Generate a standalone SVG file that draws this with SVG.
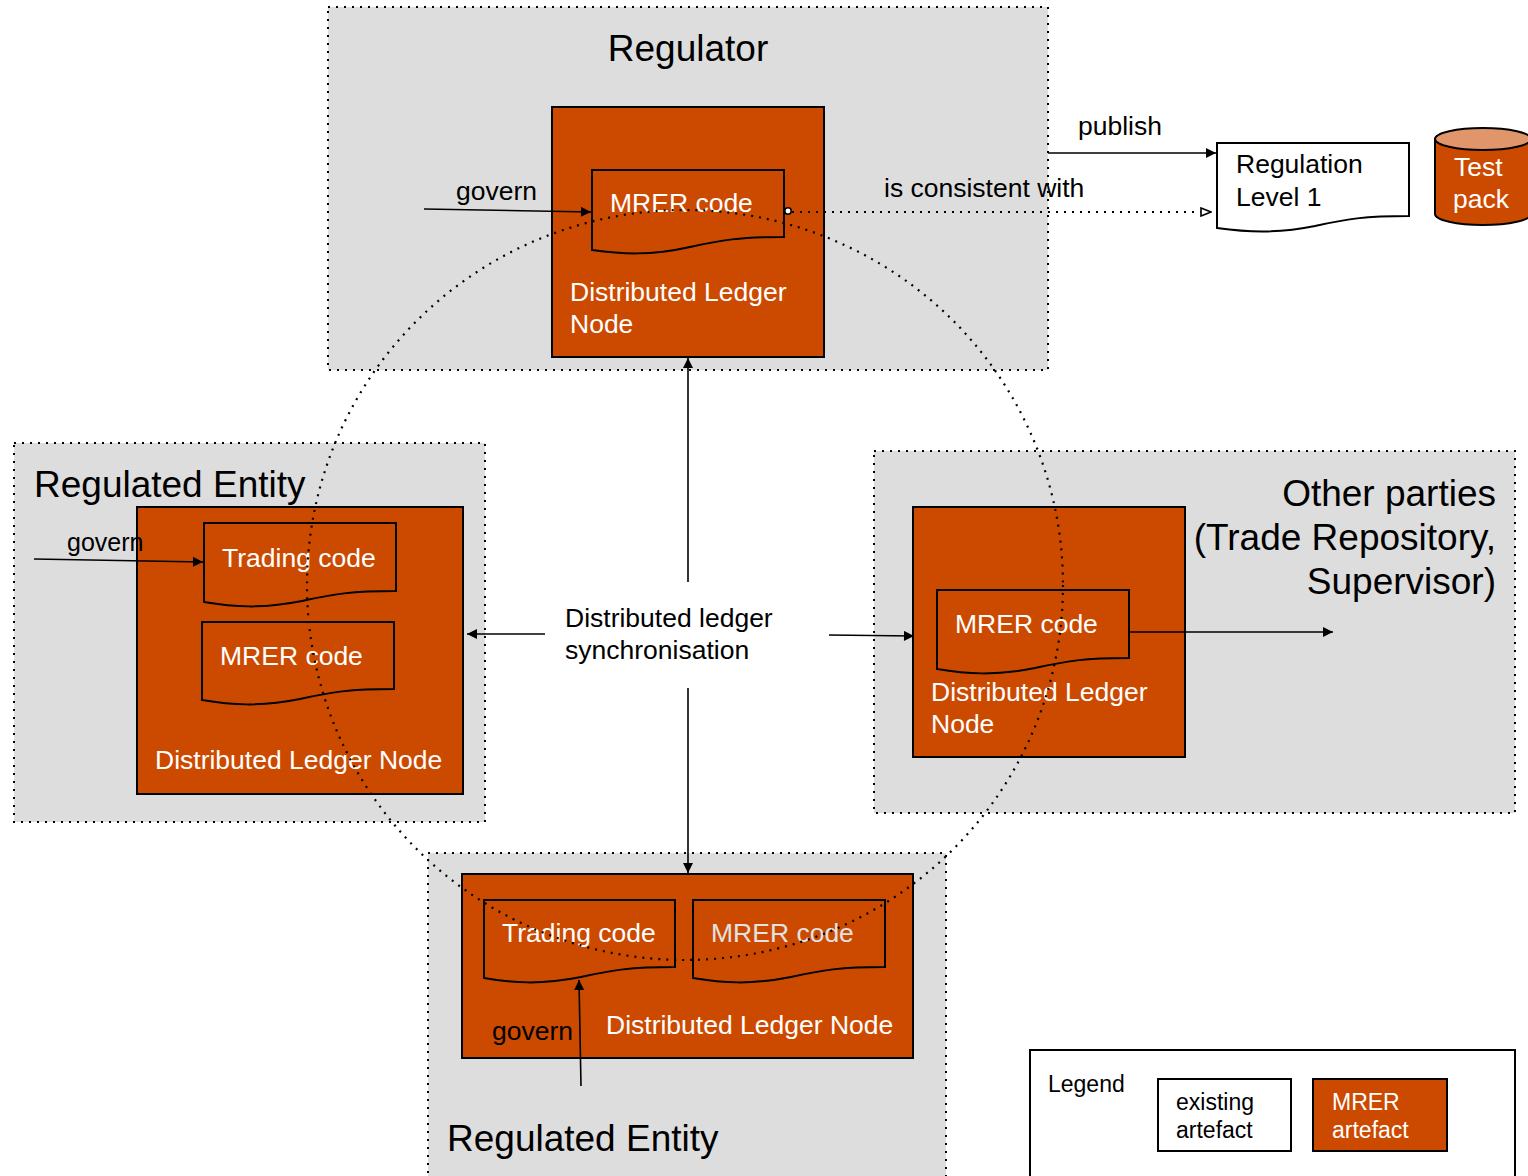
<svg xmlns="http://www.w3.org/2000/svg" width="1528" height="1176" viewBox="0 0 1528 1176">
<style>
.cont{fill:#dddddd;stroke:#000;stroke-width:2;stroke-dasharray:2 6}
.dln{fill:#cc4a00;stroke:#000;stroke-width:2}
.doc{fill:#cc4a00;stroke:#000;stroke-width:2}
.t{font-family:"Liberation Sans",Arial,sans-serif}
.big{font-size:37px;fill:#000}
.w{font-size:26.5px;fill:#fff}
.b{font-size:26.5px;fill:#000}
.s{font-size:23px}
.ln{stroke:#000;stroke-width:1.6;fill:none}
.dot{stroke:#000;stroke-width:2.2;fill:none;stroke-dasharray:2 6}
</style>
<defs>
<marker id="ah" viewBox="0 0 10 10" refX="10" refY="5" markerWidth="12" markerHeight="10" markerUnits="userSpaceOnUse" orient="auto"><path d="M0,0 L10,5 L0,10 Z" fill="#000"/></marker>
<marker id="oh" viewBox="0 0 12 10" refX="11" refY="5" markerWidth="12" markerHeight="10" markerUnits="userSpaceOnUse" orient="auto"><path d="M1,1 L11,5 L1,9 Z" fill="#fff" stroke="#000" stroke-width="1.6"/></marker>
</defs>

<g id="regulator">
<rect class="cont" x="328" y="7" width="720" height="363"/>
<text class="t big" x="688" y="61" text-anchor="middle">Regulator</text>
<g id="reg-dln">
<rect class="dln" x="552" y="107" width="272" height="250"/>
<path class="doc" d="M592,170 H784 V237 C740,237 721,240 690,247 C650,256 621,254 592,250 Z"/>
<text class="t w" x="610" y="212">MRER code</text>
<text class="t w" x="570" y="301">Distributed Ledger</text>
<text class="t w" x="570" y="333">Node</text>
</g>
</g>

<g id="regulation-level-1">
<path d="M1217,143 H1409 V216 C1365,216 1346,219 1315,226 C1275,234 1246,232 1217,228 Z" fill="#fff" stroke="#000" stroke-width="2"/>
<text class="t b" x="1236" y="173">Regulation</text>
<text class="t b" x="1236" y="206">Level 1</text>
</g>

<g id="test-pack">
<path d="M1435,139 V214 A48,11 0 0 0 1531,214 V139 Z" fill="#cc4a00" stroke="#000" stroke-width="2"/>
<ellipse cx="1483" cy="139" rx="48" ry="11" fill="#e0956b" stroke="#000" stroke-width="2"/>
<text class="t w" x="1454" y="176">Test</text>
<text class="t w" x="1453" y="208">pack</text>
</g>

<g id="regulated-entity-left">
<rect class="cont" x="14" y="443" width="471" height="379"/>
<text class="t big" x="34" y="497">Regulated Entity</text>
<g id="left-dln">
<rect class="dln" x="137" y="507" width="326" height="287"/>
<path class="doc" d="M204,523 H396 V591 C352,591 333,594 302,601 C262,609 233,607 204,602 Z"/>
<text class="t w" x="222" y="567">Trading code</text>
<path class="doc" d="M202,622 H394 V689 C350,689 331,692 300,699 C260,707 231,705 202,700 Z"/>
<text class="t w" x="220" y="665">MRER code</text>
<text class="t w" x="155" y="769">Distributed Ledger Node</text>
</g>
</g>

<g id="other-parties">
<rect class="cont" x="874" y="451" width="641" height="362"/>
<text class="t big" x="1496" y="506" text-anchor="end">Other parties</text>
<text class="t big" x="1496" y="550" text-anchor="end">(Trade Repository,</text>
<text class="t big" x="1496" y="594" text-anchor="end">Supervisor)</text>
<g id="other-dln">
<rect class="dln" x="913" y="507" width="272" height="250"/>
<path class="doc" d="M937,590 H1129 V658 C1085,658 1066,661 1035,668 C995,676 966,674 937,669 Z"/>
<text class="t w" x="955" y="633">MRER code</text>
<text class="t w" x="931" y="701">Distributed Ledger</text>
<text class="t w" x="931" y="733">Node</text>
</g>
</g>

<g id="regulated-entity-bottom">
<rect class="cont" x="428" y="853" width="518" height="330"/>
<text class="t big" x="447" y="1151">Regulated Entity</text>
<g id="bottom-dln">
<rect class="dln" x="462" y="874" width="451" height="184"/>
<path class="doc" d="M484,900 H675 V967 C631,967 612,970 581,977 C541,985 512,983 484,978 Z"/>
<text class="t w" x="502" y="942">Trading code</text>
<path class="doc" d="M693,900 H885 V967 C841,967 822,970 791,977 C751,985 722,983 693,978 Z"/>
<text class="t" x="711" y="942" font-size="26.5" fill="#e2e2e2">MRER code</text>
<text class="t w" x="606" y="1034">Distributed Ledger Node</text>
<text class="t b" x="492" y="1040">govern</text>
</g>
</g>

<g id="sync-label">
<text class="t b" x="565" y="627">Distributed ledger</text>
<text class="t b" x="565" y="659">synchronisation</text>
</g>

<g id="legend">
<rect x="1030" y="1050" width="485" height="140" fill="#fff" stroke="#000" stroke-width="2"/>
<text class="t s" x="1048" y="1092" fill="#000">Legend</text>
<rect x="1158" y="1079" width="133" height="72" fill="#fff" stroke="#000" stroke-width="2"/>
<text class="t s" x="1176" y="1110" fill="#000">existing</text>
<text class="t s" x="1176" y="1138" fill="#000">artefact</text>
<rect x="1313" y="1079" width="134" height="72" fill="#cc4a00" stroke="#000" stroke-width="2"/>
<text class="t s" x="1332" y="1110" fill="#fff">MRER</text>
<text class="t s" x="1332" y="1138" fill="#fff">artefact</text>
</g>

<g id="connectors">
<ellipse class="dot" cx="685" cy="585" rx="378" ry="375"/>
<line class="ln" x1="424" y1="209" x2="591" y2="212" marker-end="url(#ah)"/>
<text class="t b" x="456" y="200">govern</text>
<line class="ln" x1="1048" y1="153" x2="1216" y2="153" marker-end="url(#ah)"/>
<text class="t b" x="1078" y="135">publish</text>
<line class="dot" x1="792" y1="212" x2="1200" y2="212"/>
<line x1="1200" y1="212" x2="1211" y2="212" stroke="#000" stroke-width="1" marker-end="url(#oh)"/>
<circle cx="788" cy="211" r="3.2" fill="#fff" stroke="#000" stroke-width="1.5"/>
<text class="t b" x="884" y="197">is consistent with</text>
<line class="ln" x1="34" y1="559" x2="203" y2="562" marker-end="url(#ah)"/>
<text class="t" x="67" y="551" font-size="25" fill="#000">govern</text>
<line class="ln" x1="688" y1="582" x2="688" y2="358" marker-end="url(#ah)"/>
<line class="ln" x1="688" y1="688" x2="688" y2="873" marker-end="url(#ah)"/>
<line class="ln" x1="545" y1="634" x2="467" y2="634" marker-end="url(#ah)"/>
<line class="ln" x1="829" y1="635" x2="914" y2="636" marker-end="url(#ah)"/>
<line class="ln" x1="1129" y1="632" x2="1333" y2="632" marker-end="url(#ah)"/>
<line class="ln" x1="581" y1="1086" x2="579" y2="980" marker-end="url(#ah)"/>
</g>
</svg>
